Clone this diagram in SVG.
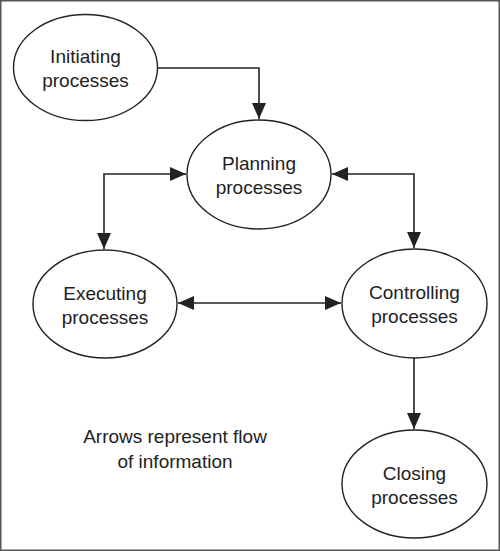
<svg xmlns="http://www.w3.org/2000/svg" width="500" height="551" viewBox="0 0 500 551">
<defs>
<marker id="ah" markerUnits="userSpaceOnUse" markerWidth="16" markerHeight="14" refX="16" refY="7" orient="auto-start-reverse">
<path d="M0,0 L16,7 L0,14 Z" fill="#222"/>
</marker>
<style>
.n{fill:#fff;stroke:#222;stroke-width:1.4}
.t{font-family:"Liberation Sans",Arial,sans-serif;font-size:19px;fill:#222;text-anchor:middle}
.c{fill:none;stroke:#222;stroke-width:1.6}
</style>
</defs>
<rect x="0.75" y="0.75" width="498.5" height="549.5" fill="#fff" stroke="#555" stroke-width="1.5"/>
<g id="connectors">
<path class="c" d="M158,68 H259 V119" marker-end="url(#ah)"/>
<path class="c" d="M186,174 H104 V249" marker-start="url(#ah)" marker-end="url(#ah)"/>
<path class="c" d="M332,174 H414 V248" marker-start="url(#ah)" marker-end="url(#ah)"/>
<path class="c" d="M178,303 H341" marker-start="url(#ah)" marker-end="url(#ah)"/>
<path class="c" d="M414,358 V429" marker-end="url(#ah)"/>
</g>
<g id="initiating">
<ellipse class="n" cx="85.5" cy="67.5" rx="72" ry="53"/>
<text class="t" x="85.5" y="63">Initiating</text>
<text class="t" x="85.5" y="87">processes</text>
</g>
<g id="planning">
<ellipse class="n" cx="259" cy="174.5" rx="72" ry="54.5"/>
<text class="t" x="259" y="170">Planning</text>
<text class="t" x="259" y="194">processes</text>
</g>
<g id="executing">
<ellipse class="n" cx="105" cy="304" rx="72" ry="54"/>
<text class="t" x="105" y="299.5">Executing</text>
<text class="t" x="105" y="323.5">processes</text>
</g>
<g id="controlling">
<ellipse class="n" cx="414.5" cy="303.5" rx="72.5" ry="54.5"/>
<text class="t" x="414.5" y="299">Controlling</text>
<text class="t" x="414.5" y="323">processes</text>
</g>
<g id="closing">
<ellipse class="n" cx="414.5" cy="484" rx="72.5" ry="54"/>
<text class="t" x="414.5" y="479.5">Closing</text>
<text class="t" x="414.5" y="503.5">processes</text>
</g>
<g id="caption">
<text class="t" x="175" y="443">Arrows represent flow</text>
<text class="t" x="175" y="468">of information</text>
</g>
</svg>
